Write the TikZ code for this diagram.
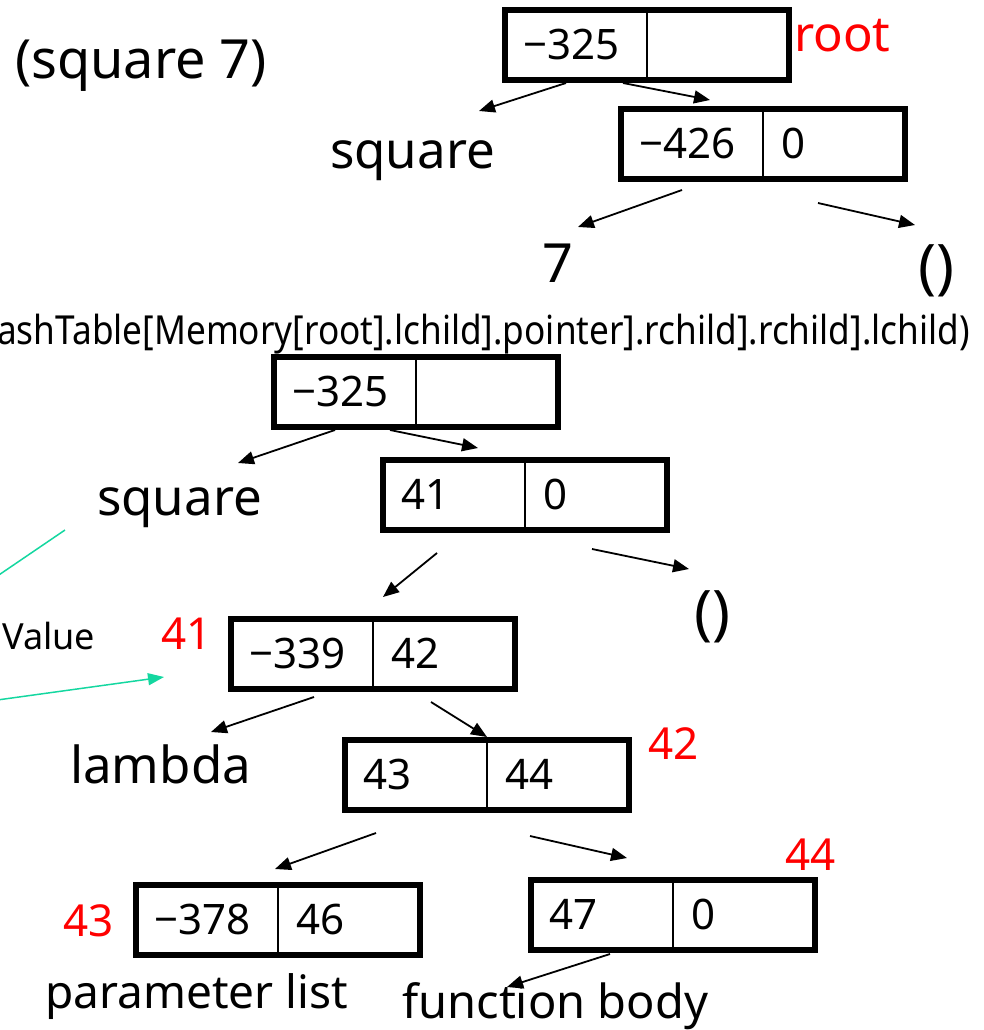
\documentclass[tikz,border=0pt]{standalone}
\usepackage{fontspec}
\setmainfont{Noto Sans}
\newfontfamily\narrowfont[FakeStretch=0.88]{Noto Sans}
\usetikzlibrary{arrows.meta,positioning}
\definecolor{linkteal}{RGB}{20,215,160}

\begin{document}
\begin{tikzpicture}[x=1pt, y=-1pt,
  cell/.style={draw, line width=1.5pt, outer sep=0pt, anchor=west,
    minimum width=142pt, minimum height=70pt, inner xsep=18pt, inner ysep=0pt,
    text width=106pt, align=left, text height=29pt, text depth=0pt,
    font=\fontsize{42}{42}\selectfont},
  boxframe/.style={line width=6pt},
  ptr/.style={-{Triangle[length=16pt,width=13pt]}, line width=1.8pt},
  link/.style={linkteal, line width=1.5pt},
  word/.style={inner sep=0pt, anchor=base west, font=\fontsize{#1}{#1}\selectfont},
  addr/.style={word=44, red},
  nil/.style={inner sep=0pt, font=\fontsize{60}{60}\selectfont}]
\useasboundingbox (0,0) rectangle (983,1030);

% (square 7) before evaluation
\node[word=54] (call) at (15,79) {(square 7)};
\node[cell] (a1l) at (505,45) {−325};
\node[cell, right=0pt of a1l] (a1r) {};
\draw[boxframe] (a1l.north west) rectangle (a1r.south east);
\node[word=49, red] (root) at (794,52) {root};
\node[word=51] (sq1) at (330,168) {square};
\node[cell] (b1l) at (621,144) {−426};
\node[cell, right=0pt of b1l] (b1r) {0};
\draw[boxframe] (b1l.north west) rectangle (b1r.south east);
\node[word=54] (seven) at (542,282) {7};
\node[nil] (nil1) at (936,271) {()};
\draw[ptr] ([shift={(61,3)}]a1l.south west) -- ([shift={(149,-57)}]sq1.base west);
\draw[ptr] ([shift={(118,3)}]a1l.south west) -- ([shift={(89,-9)}]b1l.north west);
\draw[ptr] ([shift={(61,11)}]b1l.south west) -- ([shift={(36,-55)}]seven.base west);
\draw[ptr] ([shift={(55,24)}]b1r.south west) -- ([shift={(-21,-46)}]nil1.center);

% lookup path
\node[word=40, font=\narrowfont\fontsize{40}{40}\selectfont] (lookup) at (-3,344)
  {ashTable[Memory[root].lchild].pointer].rchild].rchild].lchild)};

% after the lambda is substituted
\node[cell] (a2l) at (274,392) {−325};
\node[cell, right=0pt of a2l] (a2r) {};
\draw[boxframe] (a2l.north west) rectangle (a2r.south east);
\node[word=51] (sq2) at (97,515) {square};
\node[cell] (b2l) at (383,495) {41};
\node[cell, right=0pt of b2l] (b2r) {0};
\draw[boxframe] (b2l.north west) rectangle (b2r.south east);
\node[nil] (nil2) at (712,617) {()};
\draw[ptr] ([shift={(61,3)}]a2l.south west) -- ([shift={(141,-52)}]sq2.base west);
\draw[ptr] ([shift={(116,3)}]a2l.south west) -- ([shift={(95,-12)}]b2l.north west);
\draw[ptr] ([shift={(67,19)}]b2r.south west) -- ([shift={(-23,-48)}]nil2.center);

% value cells 41..44
\node[word=36] (value) at (2,649) {Value};
\node[addr] (n41) at (161,649) {41};
\node[cell] (cl) at (231,654) {−339};
\node[cell, right=0pt of cl] (cr) {42};
\draw[boxframe] (cl.north west) rectangle (cr.south east);
\draw[ptr] ([shift={(54,23)}]b2l.south west) -- ([shift={(152,-22)}]cl.north west);
\node[word=51] (lam) at (70,783) {lambda};
\node[addr] (n42) at (648,759) {42};
\node[cell] (dl) at (345,775) {43};
\node[cell, right=0pt of dl] (dr) {44};
\draw[boxframe] (dl.north west) rectangle (dr.south east);
\node[addr] (n43) at (63,936) {43};
\node[cell] (el) at (136,920) {−378};
\node[cell, right=0pt of el] (er) {46};
\draw[boxframe] (el.north west) rectangle (er.south east);
\node[addr] (n44) at (785,870) {44};
\node[cell] (fl) at (531,915) {47};
\node[cell, right=0pt of fl] (fr) {0};
\draw[boxframe] (fl.north west) rectangle (fr.south east);
\node[word=46] (params) at (45,1008) {parameter list};
\node[word=47] (body) at (402,1018) {function body};
\draw[ptr] ([shift={(83,8)}]cl.south west) -- ([shift={(141,-51)}]lam.base west);
\draw[ptr] ([shift={(58,13)}]cr.south west) -- ([yshift=3pt]dl.north east);
\draw[ptr] ([shift={(31,23)}]dl.south west) -- ([shift={(139,-16)}]el.north west);
\draw[ptr] ([shift={(43,26)}]dr.south west) -- ([shift={(96,-22)}]fl.north west);
\draw[ptr] ([shift={(79,4)}]fl.south west) -- ([shift={(105,-31)}]body.base west);

% pointers coming in from the left
\coordinate (cut1) at (65,530);
\coordinate (cut2) at (-10,581);
\coordinate (cut3) at (-10,701);
\draw[link] (cut1) -- (cut2);
\draw[link, -{Triangle[length=16pt,width=12pt]}] (cut3) -- ([shift={(3,28)}]n41.base west);
\end{tikzpicture}
\end{document}
